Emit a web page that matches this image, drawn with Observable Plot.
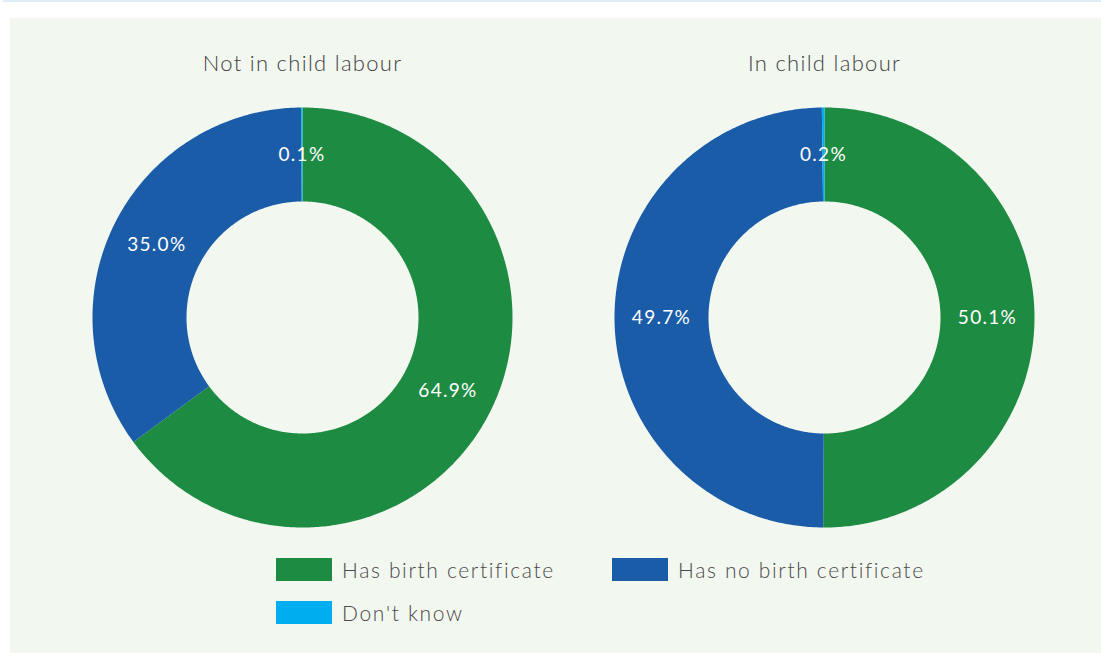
<!DOCTYPE html>
<html><head><meta charset="utf-8">
<script src="https://cdn.jsdelivr.net/npm/d3@7"></script>
<script src="https://cdn.jsdelivr.net/npm/@observablehq/plot@0.6"></script>
<style>
body{margin:0;background:#fff;font-family:Lato,"Open Sans",sans-serif;width:1101px;height:653px;overflow:hidden;position:relative}
#topline{position:absolute;left:3px;top:0;width:1098px;height:2px;background:#ddeefa}
#panel{position:absolute;left:10px;top:18px;width:1091px;height:635px;background:#f2f7f0}
#chart{position:absolute;left:0;top:18px}
#chart svg text{letter-spacing:1.3px}
.item{position:absolute;display:flex;align-items:center;height:23px}
.sw{width:56px;height:23px;margin-right:10px}
.lab{font-size:21px;font-weight:300;color:#4a4a4a;letter-spacing:1.65px;white-space:nowrap}
</style></head>
<body>
<div id="topline"></div>
<div id="panel"></div>
<div id="chart"></div>
<div id="legend"></div>
<script>
// ---- data ----
const groups = ["Not in child labour", "In child labour"];
const categories = ["Has birth certificate", "Has no birth certificate", "Don't know"];
const notInChildLabour = [64.9, 35.0, 0.1];
const inChildLabour = [50.1, 49.7, 0.2];
const colors = ["#1e8b43", "#1a5ca8", "#00aeef"];

// ---- layout ----
const centersX = [302, 824];
const cy = 299;
const rOuter = 210, rInner = 116, rLabel = 163;

const pie = d3.pie().sort(null).value(d => d.value).startAngle(0).endAngle(2 * Math.PI);
const pt = (cx, r, a) => [cx + r * Math.sin(a), cy - r * Math.cos(a)];

const features = [], labels = [], titles = [];
[notInChildLabour, inChildLabour].forEach((vals, gi) => {
  const cx = centersX[gi];
  titles.push({x: cx, y: 45, text: groups[gi]});
  const arcs = pie(vals.map((v, i) => ({value: v, category: categories[i]})));
  arcs.forEach(a => {
    const n = Math.max(2, Math.ceil((a.endAngle - a.startAngle) / 0.01));
    const ring = [];
    for (let k = 0; k <= n; k++) ring.push(pt(cx, rOuter, a.startAngle + (a.endAngle - a.startAngle) * k / n));
    for (let k = n; k >= 0; k--) ring.push(pt(cx, rInner, a.startAngle + (a.endAngle - a.startAngle) * k / n));
    ring.push(ring[0]);
    features.push({type: "Feature", properties: {category: a.data.category}, geometry: {type: "Polygon", coordinates: [ring]}});
    const m = (a.startAngle + a.endAngle) / 2;
    const [lx, ly] = pt(cx, rLabel, m);
    labels.push({x: lx, y: ly, text: a.data.value.toFixed(1) + "%"});
  });
});

const chart = Plot.plot({
  width: 1101, height: 527, margin: 0,
  projection: {type: "identity"},
  color: {domain: categories, range: colors},
  style: {background: "transparent", fontFamily: "Lato, 'Open Sans', sans-serif"},
  marks: [
    Plot.geo(features, {fill: d => d.properties.category}),
    Plot.text(labels, {x: "x", y: "y", text: "text", fill: "white", fontSize: 19}),
    Plot.text(titles, {x: "x", y: "y", text: "text", fill: "#3f3f3f", fontSize: 22, fontWeight: 300})
  ]
});
document.getElementById("chart").appendChild(chart);

// ---- legend ----
const legendPos = [[276, 558], [612, 558], [276, 601]];
const legend = document.getElementById("legend");
categories.forEach((c, i) => {
  const it = document.createElement("div");
  it.className = "item";
  it.style.left = legendPos[i][0] + "px";
  it.style.top = legendPos[i][1] + "px";
  it.innerHTML = `<div class="sw" style="background:${colors[i]}"></div><span class="lab">${c}</span>`;
  legend.appendChild(it);
});
</script>
</body></html>
